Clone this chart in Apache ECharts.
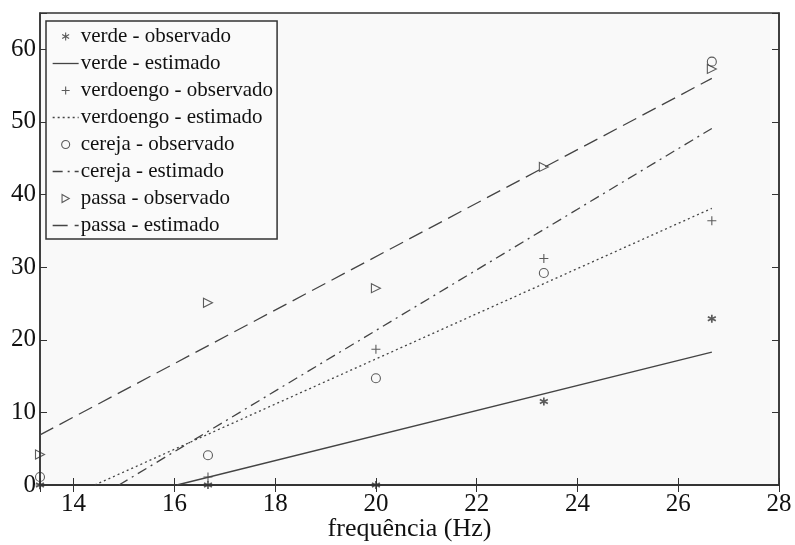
<!DOCTYPE html>
<html>
<head>
<meta charset="utf-8">
<script src="https://cdn.jsdelivr.net/npm/echarts@6/dist/echarts.min.js"></script>
<style>
  html, body { margin: 0; padding: 0; background: #fff; }
  #chart { width: 795px; height: 545px; }
</style>
</head>
<body>
<div id="chart"></div>
<script>
// frequencias ensaiadas (Hz)
const freq = [13.333, 16.667, 20, 23.333, 26.667]

// valores observados
const verdeObs = [0, 0, 0, 11.5, 22.9]
const verdoengoObs = [0, 1.1, 18.7, 31.2, 36.4]
const cerejaObs = [1.1, 4.1, 14.7, 29.2, 58.3]
const passaObs = [4.2, 25.1, 27.1, 43.8, 57.3]

// retas estimadas: [x, y] inicio e fim
const verdeEst = [[16.05, 0], [26.667, 18.3]]
const verdoengoEst = [[14.42, 0], [26.667, 38.1]]
const cerejaEst = [[14.9, 0], [26.667, 49.1]]
const passaEst = [[13.333, 6.9], [26.667, 56.0]]

const xTicks = [14, 16, 18, 20, 22, 24, 26, 28]
const yTicks = [0, 10, 20, 30, 40, 50, 60]

const ink = '#333'
const serif = 'Liberation Serif'

const asterisk = 'path://M5,0L5,10M0.67,2.5L9.33,7.5M0.67,7.5L9.33,2.5'
const plus = 'path://M5,0L5,10M0,5L10,5'
const triRight = 'path://M0,0L9,5L0,10Z'

function pairs(ys) {
  return freq.map((f, i) => [f, ys[i]])
}

function obs(name, ys, symbol, size, bw) {
  return {
    name: name,
    type: 'scatter',
    data: pairs(ys),
    symbol: symbol,
    symbolSize: size,
    clip: false,
    itemStyle: { color: 'transparent', borderColor: ink, borderWidth: bw || 1.1 }
  }
}

function est(name, pts, dash) {
  return {
    name: name,
    type: 'line',
    data: pts,
    symbol: 'none',
    // sem simbolo na legenda, so a linha
    itemStyle: { color: 'transparent', borderColor: 'transparent' },
    lineStyle: { color: '#444', width: 1.3, type: dash }
  }
}

const chart = echarts.init(document.getElementById('chart'))

const axisCommon = {
  axisLine: { show: true, lineStyle: { color: ink, width: 1.5 } },
  axisTick: { show: true, inside: true, length: 7, lineStyle: { color: ink, width: 1 } },
  splitLine: { show: false }
}

chart.setOption({
  animation: false,
  grid: {
    left: 40, right: 16, top: 13, bottom: 60,
    outerBoundsMode: 'none',
    show: true,
    backgroundColor: '#f9f9f9',
    borderColor: ink,
    borderWidth: 1.5
  },
  legend: {
    orient: 'vertical',
    left: 46,
    top: 21,
    padding: [5, 4, 3, 6],
    itemWidth: 26,
    itemHeight: 8,
    itemGap: 6,
    backgroundColor: '#fafafa',
    borderColor: ink,
    borderWidth: 1.5,
    borderRadius: 0,
    itemStyle: { borderWidth: 1.1 },
    lineStyle: { width: 1.3 },
    textStyle: { fontFamily: serif, fontSize: 21, color: '#111', padding: [0, 0, 0, -3] }
  },
  xAxis: [{
    type: 'value',
    min: freq[0],
    max: xTicks[xTicks.length - 1],
    splitNumber: 7,
    name: 'frequência (Hz)',
    nameLocation: 'middle',
    nameGap: 31,
    nameMoveOverlap: false,
    nameTextStyle: { fontFamily: serif, fontSize: 26, color: '#111' },
    axisLabel: {
      fontFamily: serif, fontSize: 25, color: '#111', margin: 7,
      formatter: v => xTicks.indexOf(v) >= 0 ? String(v) : ''
    },
    ...axisCommon
  }, {
    type: 'value',
    position: 'top',
    min: freq[0],
    max: xTicks[xTicks.length - 1],
    splitNumber: 7,
    axisLabel: { show: false },
    ...axisCommon
  }],
  yAxis: [{
    type: 'value',
    min: 0,
    max: 65,
    interval: 10,
    axisLabel: {
      fontFamily: serif, fontSize: 25, color: '#111', margin: 4,
      formatter: v => yTicks.indexOf(v) >= 0 ? String(v) : ''
    },
    ...axisCommon
  }, {
    type: 'value',
    position: 'right',
    min: 0,
    max: 65,
    interval: 10,
    axisLabel: { show: false },
    ...axisCommon
  }],
  series: [
    obs('verde - observado', verdeObs, asterisk, 8, 1.7),
    est('verde - estimado', verdeEst, 'solid'),
    obs('verdoengo - observado', verdoengoObs, plus, 9),
    est('verdoengo - estimado', verdoengoEst, [2, 3]),
    obs('cereja - observado', cerejaObs, 'circle', 9),
    est('cereja - estimado', cerejaEst, [10, 5, 2, 5]),
    obs('passa - observado', passaObs, triRight, 9),
    est('passa - estimado', passaEst, [15, 7])
  ]
})
</script>
</body>
</html>
